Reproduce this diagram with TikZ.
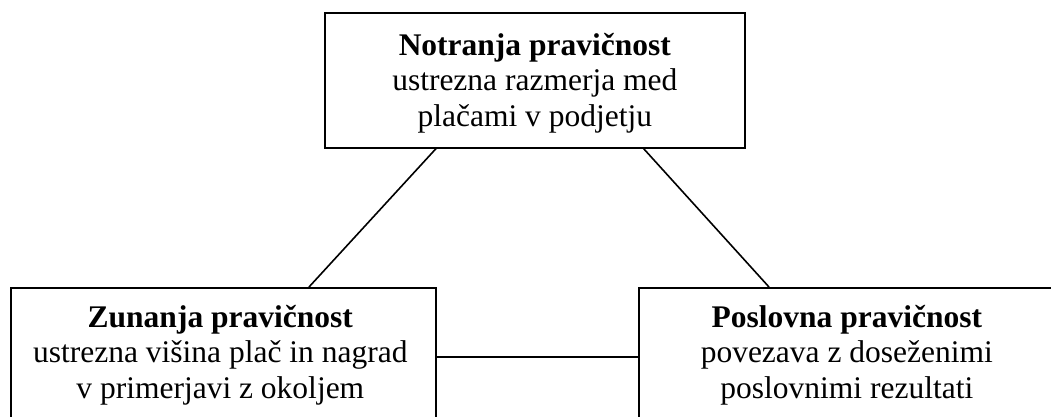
\documentclass[tikz,border=0pt]{standalone}
\usepackage{fontspec}
\setmainfont{Liberation Serif}
\usetikzlibrary{calc}
\begin{document}
\begin{tikzpicture}[x=1pt,y=-1pt,
  box/.style={draw, line width=1.6pt, inner sep=0pt, anchor=north west},
  caption/.style={anchor=base, inner sep=0pt, font=\fontsize{31.5}{35.5}\selectfont},
  link/.style={line width=1.6pt}]
\useasboundingbox (0,0) rectangle (1051,416);
\clip (0,0) rectangle (1051,416);

% the three kinds of pay fairness
\node[box, minimum width=420pt, minimum height=135pt] (inner) at (324,12) {};
\node[box, minimum width=425pt, minimum height=200pt] (outer) at (10,287) {};
\node[box, minimum width=420pt, minimum height=200pt] (business) at (638,287) {};

\node[caption] (innertext) at ($(inner.north)+(0,43)$)
  {\begin{tabular}[t]{@{}c@{}}\textbf{Notranja pravičnost}\\ ustrezna razmerja med\\ plačami v podjetju\end{tabular}};
\node[caption] (outertext) at ($(outer.north)+(-3,40)$)
  {\begin{tabular}[t]{@{}c@{}}\textbf{Zunanja pravičnost}\\ ustrezna višina plač in nagrad\\ v primerjavi z okoljem\end{tabular}};
\node[caption] (businesstext) at ($(business.north)+(-2,40)$)
  {\begin{tabular}[t]{@{}c@{}}\textbf{Poslovna pravičnost}\\ povezava z doseženimi\\ poslovnimi rezultati\end{tabular}};

% links between the boxes
\coordinate (innerL) at ($(inner.south west)+(112,0)$);
\coordinate (innerR) at ($(inner.south east)+(-102,0)$);
\coordinate (outerT) at ($(outer.north west)+(299,0)$);
\coordinate (businessT) at ($(business.north west)+(131,0)$);
\coordinate (linkrow) at (0,357);

\draw[link] (innerL) -- (outerT);
\draw[link] (innerR) -- (businessT);
\draw[link] (outer.east |- linkrow) -- (business.west |- linkrow);
\end{tikzpicture}
\end{document}
